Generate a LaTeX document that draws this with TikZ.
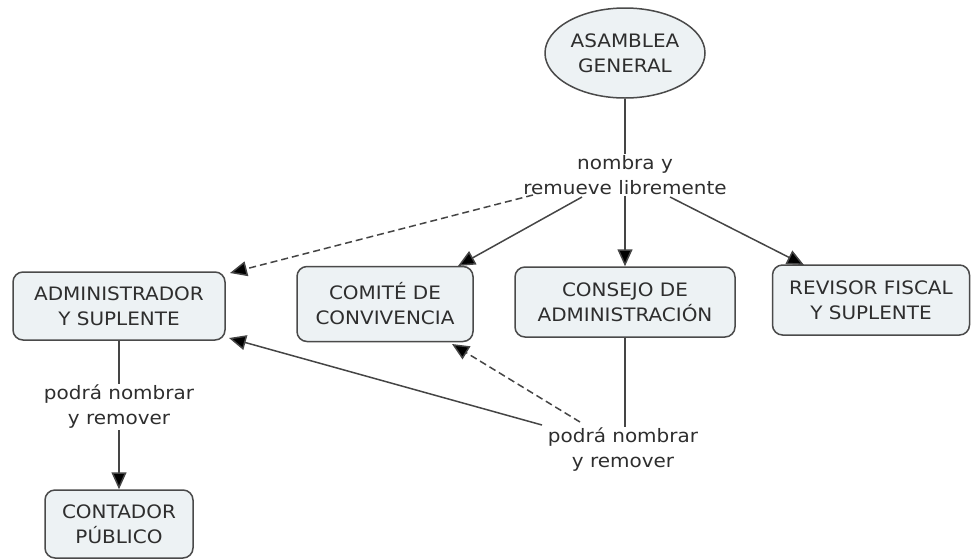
\documentclass[tikz,border=0pt]{standalone}
\usepackage{fontspec}
\setmainfont{DejaVu Sans}[FakeStretch=1.08]
\usetikzlibrary{arrows.meta,shapes.geometric,calc}
\definecolor{boxfill}{HTML}{EDF2F4}
\definecolor{boxline}{HTML}{4A4A4A}
\definecolor{txt}{HTML}{2E2E2E}
\definecolor{lin}{HTML}{454545}
\begin{document}
\begin{tikzpicture}[x=1pt,y=-1pt,
  concept/.style={draw=boxline,line width=1.5pt,fill=boxfill,rounded corners=10pt,
     align=center,text=txt,font=\fontsize{18.5}{25}\selectfont,inner sep=0pt},
  oval/.style={ellipse,draw=boxline,line width=1.5pt,fill=boxfill,align=center,text=txt,
     font=\fontsize{18.5}{25}\selectfont,inner sep=0pt},
  linklbl/.style={align=center,text=txt,font=\fontsize{18.5}{25}\selectfont,inner sep=1pt},
  conn/.style={draw=lin,line width=1.5pt},
  arr/.style={conn,-{Triangle[length=17pt,width=15pt,fill=black]}},
  darr/.style={arr,dash pattern=on 7pt off 4pt}]
\useasboundingbox (0,0) rectangle (972,558);
\node[oval,minimum width=160pt,minimum height=90pt] (ag) at (625,53) {ASAMBLEA\\GENERAL};
\node[linklbl] (l1) at (625,175) {nombra y\\remueve libremente};
\node[concept,minimum width=212pt,minimum height=68pt] (adm) at (119,306) {ADMINISTRADOR\\Y SUPLENTE};
\node[concept,minimum width=176pt,minimum height=75pt] (com) at (385,304) {COMITÉ DE\\CONVIVENCIA};
\node[concept,minimum width=220pt,minimum height=70pt] (con) at (625,302) {CONSEJO DE\\ADMINISTRACIÓN};
\node[concept,minimum width=197pt,minimum height=70pt] (rev) at (871,300) {REVISOR FISCAL\\Y SUPLENTE};
\node[linklbl] (l2) at (119,407) {podrá nombrar\\y remover};
\node[concept,minimum width=148pt,minimum height=68pt] (cp) at (119,524) {CONTADOR\\PÚBLICO};
\node[linklbl] (l3) at (623,450) {podrá nombrar\\y remover};
% anchor points
\coordinate (l1a) at (533,195);
\coordinate (l1b) at (582,197);
\coordinate (l1c) at (670,197);
\coordinate (l3a) at (542,425);
\coordinate (l3b) at (580,422);
\coordinate (admT) at (230,273);
\coordinate (admB) at (229,338);
\coordinate (comT) at (458,266);
\coordinate (comB) at (452,344);
\coordinate (revT) at (804,265);
% connectors
\draw[conn] (ag) -- (l1);
\draw[darr] (l1a) -- (admT);
\draw[arr] (l1b) -- (comT);
\draw[arr] (l1) -- (con);
\draw[arr] (l1c) -- (revT);
\draw[conn] (adm) -- (l2);
\draw[arr] (l2) -- (cp);
\draw[conn] (con.south) -- (con.south |- l3.north);
\draw[arr] (l3a) -- (admB);
\draw[darr] (l3b) -- (comB);
\end{tikzpicture}
\end{document}
